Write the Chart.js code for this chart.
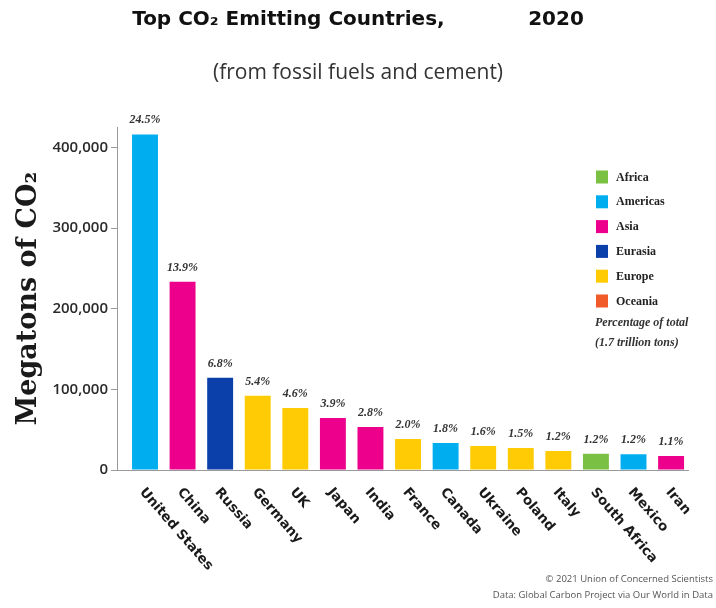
<!DOCTYPE html>
<html><head><meta charset="utf-8">
<script src="https://cdn.jsdelivr.net/npm/chart.js@4.4.1/dist/chart.umd.min.js"></script>
<style>html,body{margin:0;padding:0;background:#fff}#wrap{width:716px;height:608px;position:relative}</style>
</head><body><div id="wrap"><canvas id="c"></canvas></div>
<script>
const countries = ['United States','China','Russia','Germany','UK','Japan','India','France','Canada','Ukraine','Poland','Italy','South Africa','Mexico','Iran'];
const emissions = [416000, 233500, 114300, 92000, 77000, 64600, 53400, 38500, 33500, 29800, 27300, 23600, 20300, 19500, 17400];
const regions = ['Americas','Asia','Eurasia','Europe','Europe','Asia','Asia','Europe','Americas','Europe','Europe','Europe','Africa','Americas','Asia'];
const shares = ['24.5%','13.9%','6.8%','5.4%','4.6%','3.9%','2.8%','2.0%','1.8%','1.6%','1.5%','1.2%','1.2%','1.2%','1.1%'];
const legendRegions = ['Africa','Americas','Asia','Eurasia','Europe','Oceania'];
const yTicks = [0, 100000, 200000, 300000, 400000];
const noteLines = ['Percentage of total', '(1.7 trillion tons)'];
const footerLines = ['\u00A9 2021 Union of Concerned Scientists', 'Data: Global Carbon Project via Our World in Data'];

const regionColors = {
  Africa: '#7AC143', Americas: '#00AEEF', Asia: '#EC008C',
  Eurasia: '#0B3FAA', Europe: '#FFCB05', Oceania: '#F15A29'
};

const extras = {
  id: 'extras',
  afterDatasetsDraw(chart) {
    const ctx = chart.ctx;
    const meta = chart.getDatasetMeta(0);
    ctx.save();
    ctx.font = 'italic bold 12px "Liberation Serif"';
    ctx.fillStyle = '#333';
    ctx.textAlign = 'center';
    ctx.textBaseline = 'alphabetic';
    meta.data.forEach((bar, i) => {
      ctx.fillText(shares[i], bar.x, bar.y - 11);
    });
    ctx.restore();
  },
  afterDraw(chart) {
    const ctx = chart.ctx;
    const xs = chart.scales.x;
    const area = chart.chartArea;
    ctx.save();
    // category labels
    ctx.font = 'bold 13.5px "DejaVu Sans"';
    ctx.fillStyle = '#1a1a1a';
    ctx.textAlign = 'left';
    ctx.textBaseline = 'middle';
    countries.forEach((name, i) => {
      const px = xs.getPixelForValue(i);
      ctx.save();
      ctx.translate(px - 3, area.bottom + 20);
      ctx.rotate(49 * Math.PI / 180);
      ctx.fillText(name, 0, 0);
      ctx.restore();
    });
    // legend
    const lx = 596, ly0 = 177, step = 24.8;
    ctx.font = 'bold 12px "Liberation Serif"';
    ctx.textBaseline = 'middle';
    legendRegions.forEach((r, k) => {
      const cy = ly0 + k * step;
      ctx.fillStyle = regionColors[r];
      ctx.fillRect(lx, cy - 6.5, 12, 13);
      ctx.fillStyle = '#222';
      ctx.fillText(r, lx + 20, cy + 0.5);
    });
    ctx.font = 'italic bold 12px "Liberation Serif"';
    ctx.fillStyle = '#333';
    noteLines.forEach((t, k) => ctx.fillText(t, lx - 1, 323 + k * 20));
    // footer
    ctx.font = '9.5px "Open Sans"';
    ctx.fillStyle = '#555';
    ctx.textAlign = 'right';
    footerLines.forEach((t, k) => ctx.fillText(t, 713, 579 + k * 16));
    ctx.restore();
  }
};

new Chart(document.getElementById('c'), {
  type: 'bar',
  data: {
    datasets: [{
      data: emissions.map((v, i) => ({ x: i, y: v })),
      backgroundColor: regions.map(r => regionColors[r]),
      borderWidth: 0,
      barPercentage: 0.69,
      categoryPercentage: 1.0
    }]
  },
  options: {
    responsive: true,
    maintainAspectRatio: false,
    animation: false,
    layout: { padding: { top: 0, left: 0, right: 0, bottom: 130 } },
    plugins: {
      legend: { display: false },
      tooltip: { enabled: false },
      title: {
        display: true,
        text: 'Top CO\u2082 Emitting Countries,            2020',
        color: '#111',
        font: { family: 'DejaVu Sans', size: 20, weight: 'bold' },
        padding: { top: 8, bottom: 0 }
      },
      subtitle: {
        display: true,
        text: '(from fossil fuels and cement)',
        color: '#333',
        font: { family: 'Open Sans', size: 21, weight: 'normal' },
        padding: { top: 28, bottom: 42 }
      }
    },
    scales: {
      x: {
        type: 'linear',
        offset: false,
        min: -0.745,
        max: 14.45,
        grid: { display: false },
        border: { display: true, color: '#9a9a9a', width: 1 },
        ticks: { display: false }
      },
      y: {
        min: 0,
        max: 425000,
        afterBuildTicks: s => { s.ticks = yTicks.map(v => ({ value: v })); },
        afterFit: s => { s.width = 117; },
        grid: { drawOnChartArea: false, drawTicks: true, tickLength: 6, color: '#9a9a9a' },
        border: { display: true, color: '#9a9a9a', width: 1 },
        ticks: {
          padding: 3,
          color: '#2a2a2a',
          font: { family: 'Open Sans', size: 15, weight: '600' },
          callback: v => Number(v).toLocaleString('en-US')
        },
        title: {
          display: true,
          text: 'Megatons of CO\u2082',
          color: '#1a1a1a',
          font: { family: 'DejaVu Serif', size: 27, weight: 'bold' },
          padding: { top: 13, bottom: 0 }
        }
      },
      yRight: {
        position: 'right',
        display: true,
        grid: { display: false },
        border: { display: false },
        ticks: { display: false },
        afterFit: s => { s.width = 28; }
      }
    }
  },
  plugins: [extras]
});
</script>
</body></html>
